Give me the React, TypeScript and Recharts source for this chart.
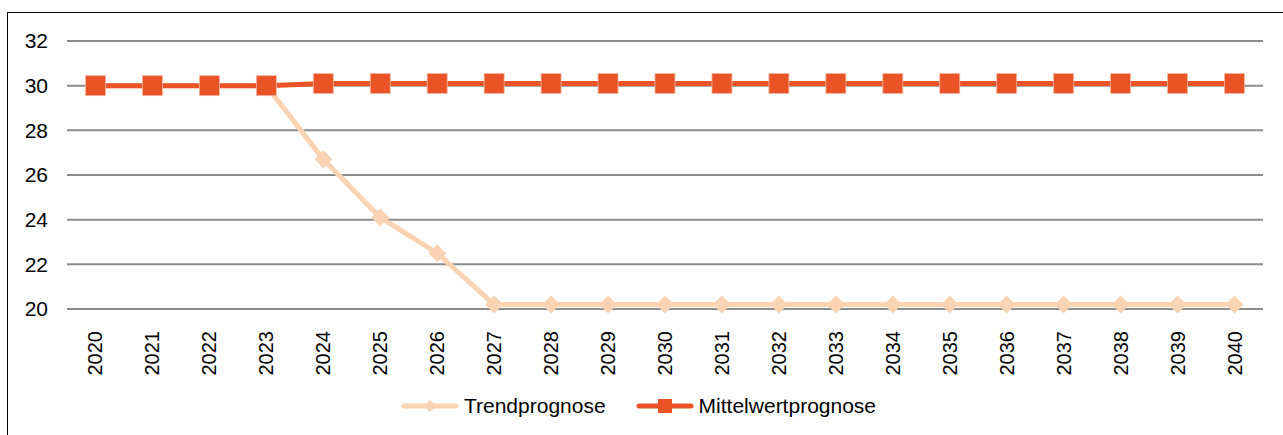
import React from 'react';
import { LineChart, Line, XAxis, YAxis, CartesianGrid, Legend } from 'recharts';

const years = ['2020', '2021', '2022', '2023', '2024', '2025', '2026', '2027', '2028', '2029', '2030', '2031', '2032', '2033', '2034', '2035', '2036', '2037', '2038', '2039', '2040'];
const trendprognose = [30, 30, 30, 30, 26.7, 24.1, 22.5, 20.2, 20.2, 20.2, 20.2, 20.2, 20.2, 20.2, 20.2, 20.2, 20.2, 20.2, 20.2, 20.2, 20.2];
const mittelwertprognose = [30, 30, 30, 30, 30.1, 30.1, 30.1, 30.1, 30.1, 30.1, 30.1, 30.1, 30.1, 30.1, 30.1, 30.1, 30.1, 30.1, 30.1, 30.1, 30.1];
const yTicks = [20, 22, 24, 26, 28, 30, 32];

const TREND = '#FAD3B2';
const MITTEL = '#E95325';
const FONT = '"Liberation Sans", Arial, sans-serif';

const data = years.map((year, i) => ({
  year,
  trend: trendprognose[i],
  mittel: mittelwertprognose[i],
}));

const Diamond = (props: any) => {
  const { cx, cy } = props;
  if (cx == null || cy == null) return null;
  const r = 9;
  return (
    <polygon
      points={`${cx},${cy - r} ${cx + r},${cy} ${cx},${cy + r} ${cx - r},${cy}`}
      fill={TREND}
    />
  );
};

const Square = (props: any) => {
  const { cx, cy } = props;
  if (cx == null || cy == null) return null;
  const s = 10;
  return <rect x={cx - s} y={cy - s} width={s * 2} height={s * 2} fill={MITTEL} stroke="#F6B9A3" strokeWidth={0.8} />;
};

// rotated year labels, read bottom to top
const YearTick = (props: any) => {
  const { x, y, payload } = props;
  const tx = x + 7;
  const ty = y + 14;
  return (
    <text
      x={tx}
      y={ty}
      transform={`rotate(-90, ${tx}, ${ty})`}
      textAnchor="end"
      fontSize={20}
      fontFamily={FONT}
      fill="#000"
    >
      {payload.value}
    </text>
  );
};

const LegendContent = () => {
  const items = [
    { label: 'Trendprognose', color: TREND, marker: 'diamond' },
    { label: 'Mittelwertprognose', color: MITTEL, marker: 'square' },
  ];
  return (
    <div style={{ display: 'flex', justifyContent: 'center', gap: 30, paddingLeft: 14, fontFamily: FONT, fontSize: 21, color: '#000', lineHeight: '24px' }}>
      {items.map((it) => (
        <div key={it.label} style={{ display: 'flex', alignItems: 'center' }}>
          <svg width={58} height={16}>
            <line x1={3} y1={8} x2={55} y2={8} stroke={it.color} strokeWidth={5} strokeLinecap="round" />
            {it.marker === 'square' ? (
              <rect x={22} y={1} width={14} height={14} fill={it.color} />
            ) : (
              <polygon points="29,2 35,8 29,14 23,8" fill={it.color} />
            )}
          </svg>
          <span style={{ marginLeft: 5 }}>{it.label}</span>
        </div>
      ))}
    </div>
  );
};

const App: React.FC = () => {
  return (
    <div style={{ position: 'absolute', left: 0, top: 0, width: 1283, height: 435, background: '#fff', overflow: 'hidden' }}>
      <div
        style={{
          position: 'absolute',
          left: 7,
          top: 12,
          width: 1300,
          height: 450,
          border: '1.5px solid #000',
          boxSizing: 'border-box',
        }}
      />
      <div style={{ position: 'absolute', left: 0, top: 0 }}>
        <LineChart width={1283} height={435} data={data} margin={{ top: 41, right: 20, left: 0, bottom: 17 }}>
          <CartesianGrid vertical={false} stroke="#8C8C8C" strokeWidth={2} />
          <XAxis
            dataKey="year"
            scale="band"
            axisLine={false}
            tickLine={false}
            interval={0}
            height={85}
            tick={<YearTick />}
          />
          <YAxis
            domain={[20, 32]}
            ticks={yTicks}
            axisLine={false}
            tickLine={false}
            width={67}
            tickSize={0}
            tickMargin={19}
            tick={{ fontSize: 21, fontFamily: FONT, fill: '#000' }}
          />
          <Legend verticalAlign="bottom" content={<LegendContent />} />
          <Line
            type="linear"
            dataKey="trend"
            stroke={TREND}
            strokeWidth={5}
            dot={<Diamond />}
            activeDot={false}
            isAnimationActive={false}
          />
          <Line
            type="linear"
            dataKey="mittel"
            stroke={MITTEL}
            strokeWidth={5}
            dot={<Square />}
            activeDot={false}
            isAnimationActive={false}
          />
        </LineChart>
      </div>
    </div>
  );
};

export default App;
